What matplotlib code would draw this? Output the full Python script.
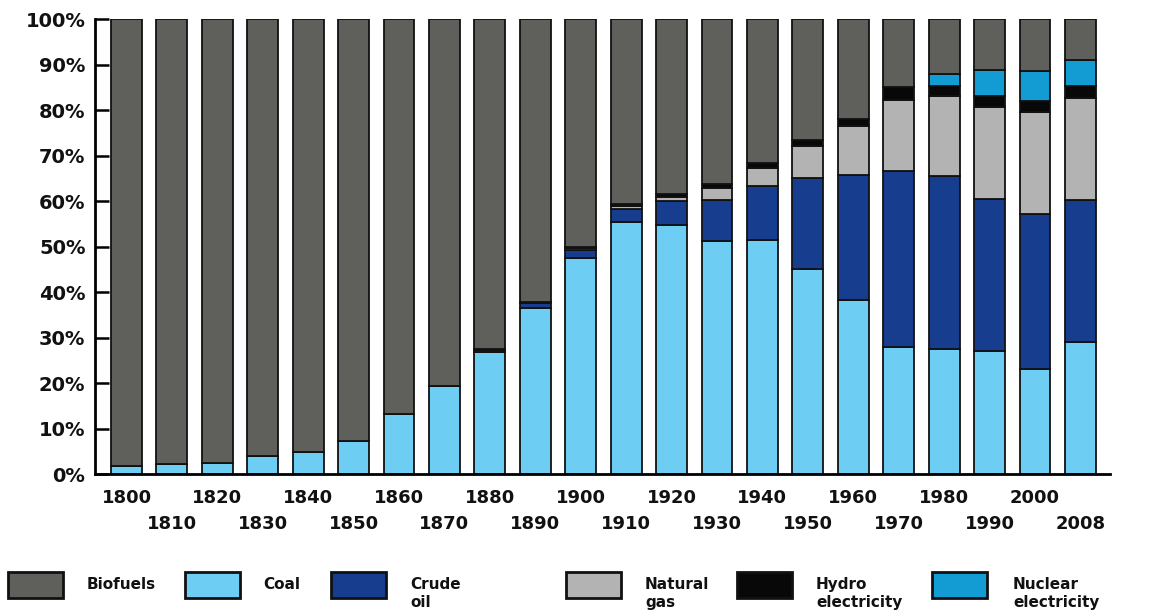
import matplotlib
matplotlib.use("Agg")
import matplotlib.pyplot as plt
from matplotlib.patches import Rectangle
import numpy as np

plt.rcParams["font.family"] = ["DejaVu Sans"]
plt.rcParams["font.weight"] = "bold"

years = ["1800", "1810", "1820", "1830", "1840", "1850", "1860", "1870", "1880",
         "1890", "1900", "1910", "1920", "1930", "1940", "1950", "1960", "1970",
         "1980", "1990", "2000", "2008"]

# shares in % (bottom to top of each bar)
coal = [1.8, 2.2, 2.5, 4.0, 4.8, 7.3, 13.3, 19.3, 26.8, 36.4, 47.5, 55.3, 54.8,
        51.2, 51.5, 45.1, 38.2, 27.9, 27.4, 27.1, 23.0, 29.0]
crude_oil = [0, 0, 0, 0, 0, 0, 0, 0, 0.4, 1.2, 1.8, 3.0, 5.2, 9.0, 11.9, 19.9,
             27.5, 38.6, 38.1, 33.4, 34.1, 31.3]
natural_gas = [0, 0, 0, 0, 0, 0, 0, 0, 0, 0, 0.3, 0.6, 1.0, 2.7, 3.8, 7.0, 10.7,
               15.8, 17.6, 20.2, 22.4, 22.4]
hydro = [0, 0, 0, 0, 0, 0, 0, 0, 0.3, 0.3, 0.3, 0.4, 0.6, 0.9, 1.2, 1.5, 1.6,
         2.7, 2.2, 2.4, 2.5, 2.5]
nuclear = [0] * 18 + [2.7, 5.7, 6.5, 5.8]
biofuels = [100 - c - o - g - h - n for c, o, g, h, n in
            zip(coal, crude_oil, natural_gas, hydro, nuclear)]

series = [
    ("Coal", coal, "#6dcdf3"),
    ("Crude\noil", crude_oil, "#163d8e"),
    ("Natural\ngas", natural_gas, "#b3b3b3"),
    ("Hydro\nelectricity", hydro, "#080808"),
    ("Nuclear\nelectricity", nuclear, "#139bd3"),
    ("Biofuels", biofuels, "#5f5f5c"),
]
legend_order = ["Biofuels", "Coal", "Crude\noil", "Natural\ngas",
                "Hydro\nelectricity", "Nuclear\nelectricity"]

fig = plt.figure(figsize=(11.75, 6.16), dpi=100)
ax = fig.add_axes([0.081, 0.2305, 0.864, 0.7385])

x = np.arange(len(years))
bottom = np.zeros(len(years))
for name, vals, color in series:
    vals = np.array(vals, dtype=float)
    ax.bar(x, vals, bottom=bottom, width=0.68, color=color,
           edgecolor="#111111", linewidth=1.3)
    bottom += vals

ax.set_xlim(-0.69, 21.66)
ax.set_ylim(0, 100)
ax.set_yticks(range(0, 101, 10))
ax.set_yticklabels([f"{v}%" for v in range(0, 101, 10)], fontsize=14,
                   fontweight="bold", color="#111111")
ax.tick_params(axis="y", direction="in", length=10, width=1.8, pad=7)
ax.set_xticks(x)
ax.set_xticklabels([])
ax.tick_params(axis="x", length=0)

# two staggered rows of year labels
for i, yr in enumerate(years):
    off = -17.5 if i % 2 == 0 else -36
    ax.annotate(yr, xy=(i, 0), xycoords=("data", "axes fraction"),
                xytext=(0, off), textcoords="offset points",
                ha="center", va="center", fontsize=13, fontweight="bold",
                color="#111111")

ax.spines[["top", "right"]].set_visible(False)
for s in ("left", "bottom"):
    ax.spines[s].set_linewidth(2)

# legend drawn by hand along the bottom
colors = {name: color for name, _, color in series}
patch_x = [8, 185, 331, 566, 737, 932]
text_x = [87, 263, 410, 645, 816, 1013]
W, H = 1175, 616
for name, px, tx in zip(legend_order, patch_x, text_x):
    fig.patches.append(Rectangle((px / W, 1 - 598 / H), 55 / W, 26 / H,
                                 transform=fig.transFigure, facecolor=colors[name],
                                 edgecolor="#111111", linewidth=2))
    fig.text(tx / W, 1 - 577 / H, name, ha="left", va="top", fontsize=11,
             fontweight="bold", linespacing=1.25, color="#111111")

fig.savefig("out.png", dpi=100)
